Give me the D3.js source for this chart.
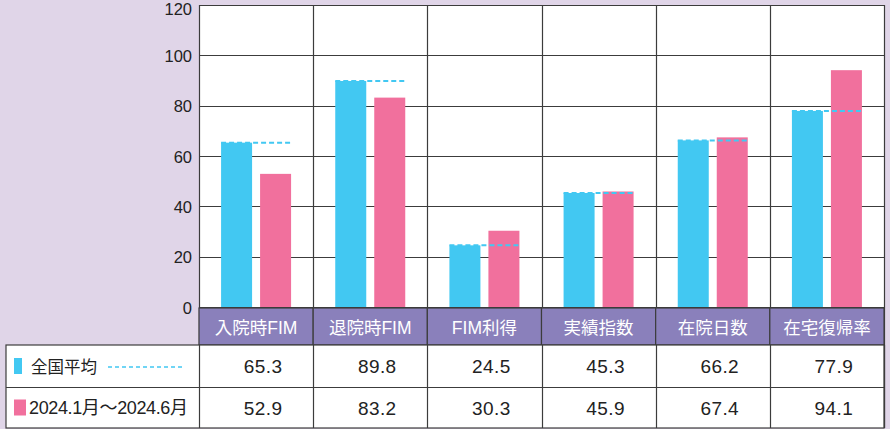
<!DOCTYPE html>
<html><head><meta charset="utf-8">
<script src="https://cdn.jsdelivr.net/npm/d3@7"></script>
<style>
html,body{margin:0;padding:0;background:#e0d5e8;}
svg{display:block;}
</style></head><body>
<svg id="c" width="890" height="429"></svg>
<script>
const categories = ["入院時FIM","退院時FIM","FIM利得","実績指数","在院日数","在宅復帰率"];
const seriesNames = ["全国平均","2024.1月～2024.6月"];
const nationalAvg = [65.3, 89.8, 24.5, 45.3, 66.2, 77.9];
const period2024 = [52.9, 83.2, 30.3, 45.9, 67.4, 94.1];
const yTicks = [0,20,40,60,80,100,120];

(function(){
const svg = d3.select("#c");
const W = 890, H = 429;
const pLeft = 199, pRight = 884, pTop = 5, pBottom = 307;
const blue = "#42c8f2", pink = "#f1709d", purple = "#8a80bb", bg = "#e0d5e8", grid = "#3c3c3c";
const numFont = "'Liberation Sans', Arial, Helvetica, sans-serif";
const jpFont = "'Noto Sans CJK JP', 'Noto Sans', sans-serif";
const mixFont = "'Liberation Sans', Arial, 'Noto Sans CJK JP', sans-serif";

svg.append("rect").attr("width", W).attr("height", H).attr("fill", bg);

const x = d3.scaleBand().domain(categories).range([pLeft, pRight]);
const y = d3.scaleLinear().domain([0, 120]).range([pBottom, pTop]);

svg.append("rect").attr("x", pLeft).attr("y", pTop).attr("width", pRight-pLeft).attr("height", pBottom-pTop).attr("fill", "#fff");

svg.append("g").selectAll("line").data(yTicks).join("line")
  .attr("x1", pLeft).attr("x2", pRight)
  .attr("y1", d => Math.round(y(d))+0.5).attr("y2", d => Math.round(y(d))+0.5)
  .attr("stroke", grid).attr("stroke-width", 1.2);

const yAxis = d3.axisLeft(y).tickValues(yTicks).tickSize(0).tickPadding(7);
const ga = svg.append("g").attr("transform", `translate(${pLeft},0)`).call(yAxis);
ga.select(".domain").remove();
ga.selectAll("text").attr("font-family", numFont).attr("font-size", 16.5).attr("fill", "#222")
  .attr("dy", d => d === 120 ? "0.55em" : "0.38em");

const bw = 31, gap = 8;
const gBars = svg.append("g");
categories.forEach((c, i) => {
  const cx = x(c) + x.bandwidth()/2;
  const bx = cx - gap/2 - bw;
  const px = cx + gap/2;
  gBars.append("rect").attr("x", bx).attr("width", bw)
    .attr("y", y(nationalAvg[i])).attr("height", y(0) - y(nationalAvg[i])).attr("fill", blue);
  gBars.append("rect").attr("x", px).attr("width", bw)
    .attr("y", y(period2024[i])).attr("height", y(0) - y(period2024[i])).attr("fill", pink);
});
categories.forEach((c, i) => {
  const cx = x(c) + x.bandwidth()/2;
  gBars.append("line")
    .attr("x1", cx - gap/2 - bw).attr("x2", cx + gap/2 + bw)
    .attr("y1", y(nationalAvg[i])).attr("y2", y(nationalAvg[i]))
    .attr("stroke", blue).attr("stroke-width", 2).attr("stroke-dasharray", "5,3");
});

const vlines = categories.map(c => x(c)).concat([pRight]);
svg.append("g").selectAll("line").data(vlines).join("line")
  .attr("x1", d => Math.round(d)+0.5).attr("x2", d => Math.round(d)+0.5)
  .attr("y1", pTop).attr("y2", 428)
  .attr("stroke", grid).attr("stroke-width", 1.2);

const hTop = 308, hBot = 345, r1 = 387, r2 = 428;
svg.append("g").selectAll("rect").data(categories).join("rect")
  .attr("x", d => x(d)).attr("y", hTop).attr("width", x.bandwidth()).attr("height", hBot-hTop)
  .attr("fill", purple).attr("stroke", grid).attr("stroke-width", 1.2);
svg.append("g").selectAll("text").data(categories).join("text")
  .attr("x", d => x(d) + x.bandwidth()/2).attr("y", (hTop+hBot)/2 + 7)
  .attr("text-anchor", "middle").attr("fill", "#fff")
  .attr("font-family", mixFont).attr("font-size", 17.5).text(d => d);

const tLeft = 6;
svg.append("rect").attr("x", tLeft).attr("y", hBot).attr("width", pRight - tLeft).attr("height", r2 - hBot)
  .attr("fill", "#fff").attr("stroke", grid).attr("stroke-width", 1.2);
svg.append("line").attr("x1", tLeft).attr("x2", pRight).attr("y1", r1+0.5).attr("y2", r1+0.5)
  .attr("stroke", grid).attr("stroke-width", 1.2);
svg.append("g").selectAll("line").data(vlines).join("line")
  .attr("x1", d => Math.round(d)+0.5).attr("x2", d => Math.round(d)+0.5)
  .attr("y1", hBot).attr("y2", r2).attr("stroke", grid).attr("stroke-width", 1.2);

[nationalAvg, period2024].forEach((arr, r) => {
  const yy = (r === 0 ? (hBot + r1)/2 : (r1 + r2)/2) + 7;
  svg.append("g").selectAll("text").data(arr).join("text")
    .attr("x", (d, i) => x(categories[i]) + x.bandwidth()/2 + 7)
    .attr("y", yy).attr("text-anchor", "middle")
    .attr("font-family", numFont).attr("font-size", 19).attr("letter-spacing", 0.4).attr("fill", "#222")
    .text(d => d.toFixed(1));
});

const legY = [(hBot + r1)/2, (r1 + r2)/2];
svg.append("rect").attr("x", 14).attr("y", legY[0] - 8).attr("width", 8).attr("height", 16).attr("fill", blue);
svg.append("rect").attr("x", 14).attr("y", legY[1] - 8).attr("width", 12).attr("height", 16).attr("fill", pink);
svg.append("text").attr("x", 31).attr("y", legY[0] + 6.5).attr("font-family", jpFont).attr("font-size", 16.5)
  .attr("fill", "#222").text(seriesNames[0]);
svg.append("line").attr("x1", 108).attr("x2", 184).attr("y1", legY[0]+1).attr("y2", legY[0]+1)
  .attr("stroke", blue).attr("stroke-width", 1.6).attr("stroke-dasharray", "4,3");
const t2 = svg.append("text").attr("x", 29).attr("y", legY[1] + 6.5).attr("font-family", mixFont).attr("font-size", 18)
  .attr("fill", "#222").text(seriesNames[1]);
const len = t2.node().getComputedTextLength();
const n = seriesNames[1].length;
t2.attr("letter-spacing", (159 - len) / (n - 1));
})();
</script>
</body></html>
